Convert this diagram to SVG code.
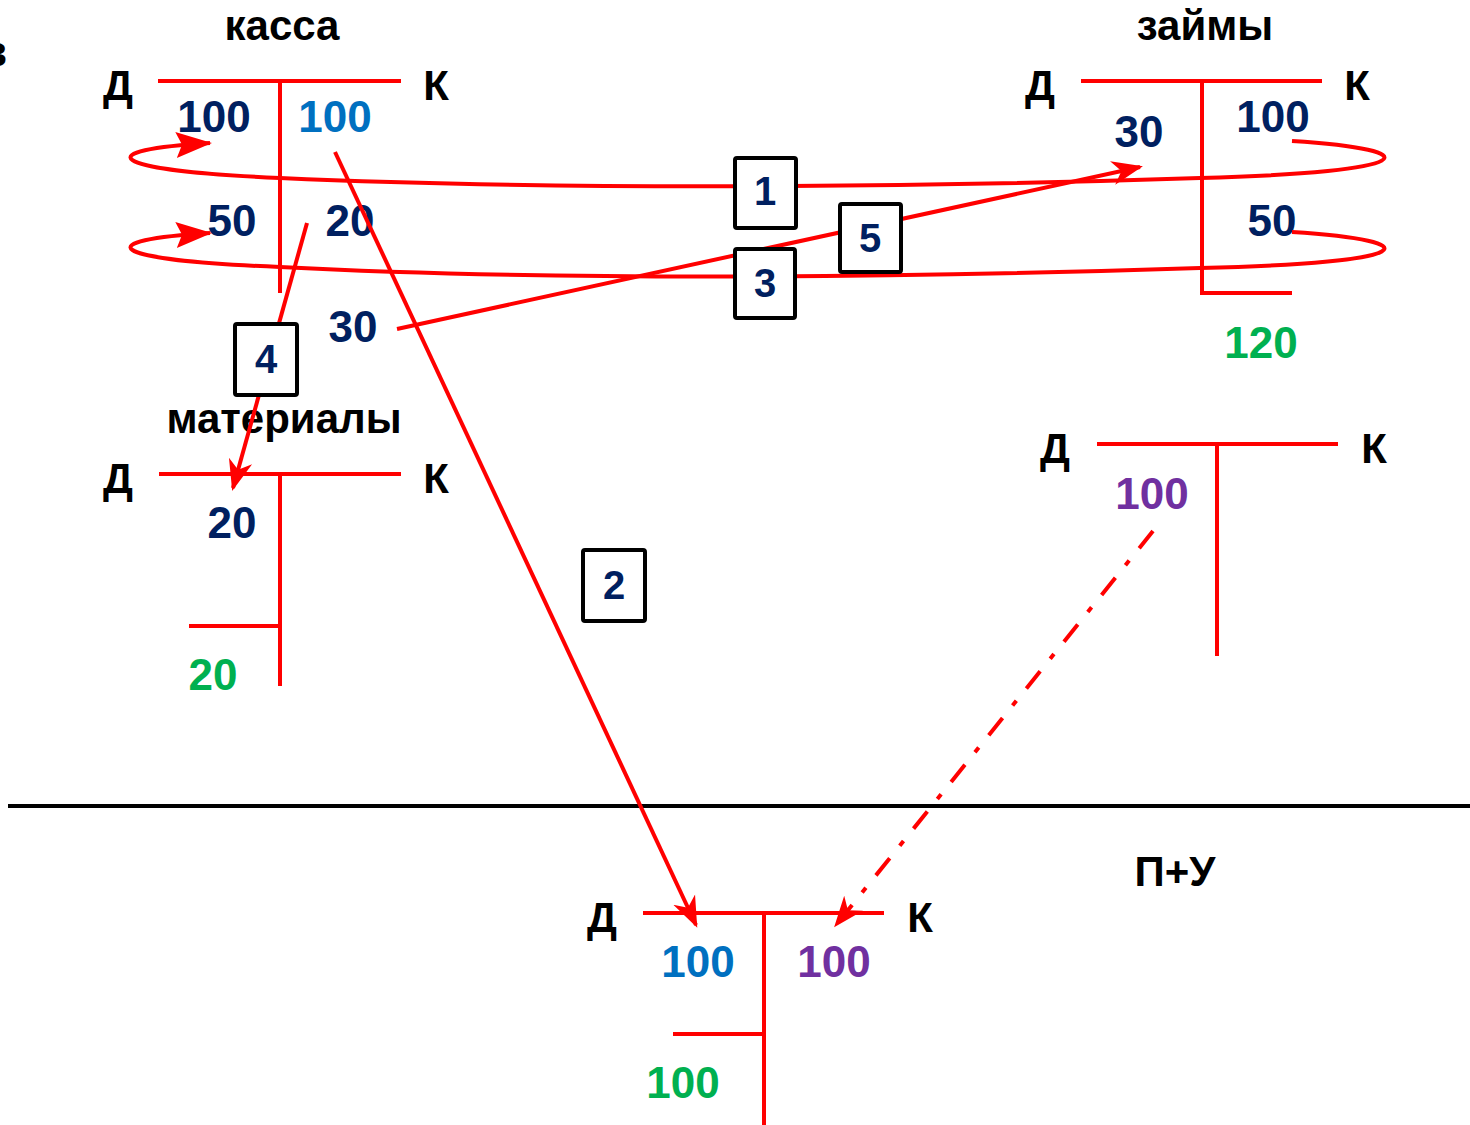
<svg xmlns="http://www.w3.org/2000/svg" width="1470" height="1125" viewBox="0 0 1470 1125">
<style>
text{font-family:"Liberation Sans",Arial,sans-serif;font-weight:bold;text-anchor:middle}
.lbl{font-size:42px;fill:#000}
.num{font-size:44px}
.navy{fill:#002060}.blue{fill:#0070C0}.purple{fill:#7030A0}.green{fill:#00B050}
.t{stroke:#FF0000;stroke-width:4;fill:none}
.c{stroke:#FF0000;stroke-width:4;fill:none}
.box rect{fill:#fff;stroke:#000;stroke-width:4}
.box text{font-size:40px;fill:#002060}
</style>
<defs>
<marker id="tri" markerUnits="userSpaceOnUse" markerWidth="38" markerHeight="28" viewBox="0 0 38 28" refX="34" refY="14" orient="auto">
<path d="M0,1 L36,14 L0,27 L6,14 Z" fill="#FF0000" stroke="none"/>
</marker>
<marker id="stealth" markerUnits="userSpaceOnUse" markerWidth="32" markerHeight="26" viewBox="0 0 32 26" refX="28" refY="13" orient="auto">
<path d="M0,1 L31,13 L0,25 L9,13 Z" fill="#FF0000" stroke="none"/>
</marker>
</defs>
<rect width="1470" height="1125" fill="#fff"/>
<text class="lbl" x="7" y="66" style="text-anchor:end">в</text>
<line x1="8" y1="806" x2="1470" y2="806" stroke="#000" stroke-width="4"/>

<g id="kassa">
<text class="lbl" x="282" y="40">касса</text>
<text class="lbl" x="118" y="100">Д</text>
<text class="lbl" x="436" y="100">К</text>
<path class="t" d="M158,81 H401 M280,81 V293"/>
<text class="num navy" x="214" y="132">100</text>
<text class="num blue" x="335" y="132">100</text>
<text class="num navy" x="232" y="236">50</text>
<text class="num navy" x="350" y="236">20</text>
<text class="num navy" x="353" y="342">30</text>
</g>

<g id="zaimy">
<text class="lbl" x="1205" y="40">займы</text>
<text class="lbl" x="1040" y="100">Д</text>
<text class="lbl" x="1357" y="100">К</text>
<path class="t" d="M1081,81 H1322 M1202,81 V293 H1292"/>
<text class="num navy" x="1139" y="147">30</text>
<text class="num navy" x="1273" y="132">100</text>
<text class="num navy" x="1272" y="236">50</text>
<text class="num green" x="1261" y="358">120</text>
</g>

<g id="materialy">
<text class="lbl" x="284" y="433">материалы</text>
<text class="lbl" x="118" y="493">Д</text>
<text class="lbl" x="436" y="493">К</text>
<path class="t" d="M159,474 H401 M280,474 V686 M189,626 H280"/>
<text class="num navy" x="232" y="538">20</text>
<text class="num green" x="213" y="690">20</text>
</g>

<g id="account-right">
<text class="lbl" x="1055" y="463">Д</text>
<text class="lbl" x="1374" y="463">К</text>
<path class="t" d="M1097,444 H1338 M1217,444 V656"/>
<text class="num purple" x="1152" y="509">100</text>
</g>

<g id="pu">
<text class="lbl" x="1175" y="886">П+У</text>
<text class="lbl" x="602" y="932">Д</text>
<text class="lbl" x="920" y="932">К</text>
<path class="t" d="M643,913 H884 M764,913 V1125 M673,1034 H764"/>
<text class="num blue" x="698" y="977">100</text>
<text class="num purple" x="834" y="977">100</text>
<text class="num green" x="683" y="1098">100</text>
</g>

<g id="connectors">
<path class="c" d="M1292,141 C1432,150 1422,172 1200,178 C900,188 550,190 280,178 C100,170 90,150 210,143" marker-end="url(#tri)"/>
<path class="c" d="M1292,232 C1432,241 1422,263 1200,268 C900,278 550,281 280,267 C100,260 90,240 210,233" marker-end="url(#tri)"/>
<path class="c" d="M397,329 L1140,167" marker-end="url(#stealth)"/>
<path class="c" d="M307,223 L233,488" marker-end="url(#stealth)"/>
<path class="c" d="M335,152 L696,925" marker-end="url(#stealth)"/>
<path class="c" d="M1153,531 L836,925" stroke-width="5" stroke-dasharray="22 16 6 16" marker-end="url(#stealth)"/>
</g>

<g id="op1" class="box"><rect x="735" y="158" width="61" height="70" rx="2"/><text x="765" y="205">1</text></g>
<g id="op3" class="box"><rect x="735" y="249" width="60" height="69" rx="2"/><text x="765" y="297">3</text></g>
<g id="op5" class="box"><rect x="840" y="204" width="61" height="68" rx="2"/><text x="870" y="252">5</text></g>
<g id="op4" class="box"><rect x="235" y="324" width="62" height="71" rx="2"/><text x="266" y="373">4</text></g>
<g id="op2" class="box"><rect x="583" y="550" width="62" height="71" rx="2"/><text x="614" y="599">2</text></g>
</svg>
